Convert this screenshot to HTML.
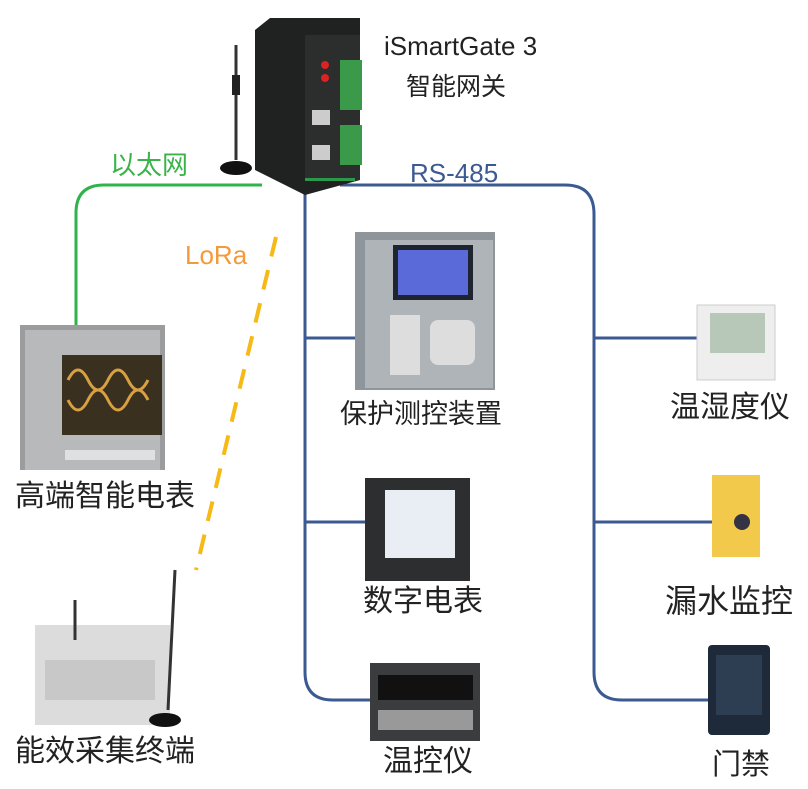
<!DOCTYPE html>
<html><head><meta charset="utf-8"><style>
body{margin:0;width:808px;height:789px;background:#fff;position:relative;overflow:hidden;font-family:"Liberation Sans","Noto Sans CJK SC",sans-serif}
.t{position:absolute;font-size:30px;color:#222;white-space:nowrap;line-height:1}
</style></head><body>
<svg width="808" height="789" style="position:absolute;left:0;top:0">
<g fill="none" stroke-width="3">
<path d="M262 185 H104 Q76 185 76 213 V326" stroke="#2fb34a"/>
<path d="M340 185 H565 Q594 185 594 214 V672 Q594 700 622 700 H708" stroke="#3c5a92"/>
<path d="M305 190 V672 Q305 700 333 700 H372" stroke="#3c5a92"/>
<path d="M305 338 H356 M305 522 H366 M594 338 H698 M594 522 H712" stroke="#3c5a92"/>
<path d="M276 237 L196 570" stroke="#f6b915" stroke-dasharray="20 14" stroke-width="4"/>
</g>
<line x1="236" y1="45" x2="236" y2="160" stroke="#333" stroke-width="3"/>
<rect x="232" y="75" width="8" height="20" fill="#222"/>
<ellipse cx="236" cy="168" rx="16" ry="7" fill="#111"/>
<polygon points="255,30 270,18 360,18 360,180 305,195 255,170" fill="#1f2220"/>
<rect x="305" y="35" width="55" height="145" fill="#2b2e2c"/>
<rect x="340" y="60" width="22" height="50" fill="#3a9a4a"/>
<rect x="340" y="125" width="22" height="40" fill="#3a9a4a"/>
<rect x="312" y="110" width="18" height="15" fill="#ccc"/><rect x="312" y="145" width="18" height="15" fill="#ccc"/>
<circle cx="325" cy="65" r="4" fill="#d22"/><circle cx="325" cy="78" r="4" fill="#d22"/>
<rect x="305" y="178" width="50" height="3" fill="#2a9a4a"/>
<rect x="20" y="325" width="145" height="145" fill="#9a9c9e"/>
<rect x="25" y="330" width="135" height="140" fill="#b7b9bb"/>
<rect x="62" y="355" width="100" height="80" fill="#3a3020"/>
<path d="M68 380 q10 -20 20 0 t20 0 t20 0 t20 0 M68 400 q10 20 20 0 t20 0 t20 0 t20 0" stroke="#d8a040" stroke-width="3" fill="none"/>
<rect x="65" y="450" width="90" height="10" fill="#e0e0e0"/>
<rect x="355" y="232" width="140" height="158" fill="#8e969c"/>
<rect x="365" y="240" width="128" height="148" fill="#aeb4b8"/>
<rect x="393" y="245" width="80" height="55" fill="#1f2530"/>
<rect x="398" y="250" width="70" height="45" fill="#5a6ad8"/>
<rect x="430" y="320" width="45" height="45" fill="#ddd" rx="8"/>
<rect x="390" y="315" width="30" height="60" fill="#ddd"/>
<rect x="365" y="478" width="105" height="103" fill="#2c2e30"/>
<rect x="385" y="490" width="70" height="68" fill="#e8eef4"/>
<rect x="370" y="663" width="110" height="78" fill="#3a3c3e"/>
<rect x="378" y="675" width="95" height="25" fill="#111"/>
<rect x="378" y="710" width="95" height="20" fill="#999"/>
<rect x="697" y="305" width="78" height="75" fill="#eee" stroke="#ccc"/>
<rect x="710" y="313" width="55" height="40" fill="#b8c8b8"/>
<rect x="712" y="475" width="48" height="82" fill="#f2c94a"/>
<circle cx="742" cy="522" r="8" fill="#334"/>
<rect x="708" y="645" width="62" height="90" fill="#1e2a3a" rx="4"/>
<rect x="716" y="655" width="46" height="60" fill="#2e3e52"/>
<rect x="35" y="625" width="135" height="100" fill="#dcdcdc"/>
<rect x="45" y="660" width="110" height="40" fill="#c8c8c8"/>
<line x1="175" y1="570" x2="168" y2="710" stroke="#333" stroke-width="3"/>
<ellipse cx="165" cy="720" rx="16" ry="7" fill="#111"/>
<line x1="75" y1="600" x2="75" y2="640" stroke="#333" stroke-width="3"/>
</svg>
<div class="t" style="left:384px;top:33px;font-size:26px">iSmartGate 3</div>
<div class="t" style="left:406px;top:75px;font-size:25px">智能网关</div>
<div class="t" style="left:110px;top:152px;font-size:26px;color:#3ab44a">以太网</div>
<div class="t" style="left:410px;top:160px;font-size:26px;color:#3c5a92">RS-485</div>
<div class="t" style="left:185px;top:242px;font-size:26px;color:#f39a3a">LoRa</div>
<div class="t" style="left:340px;top:401px;font-size:27px">保护测控装置</div>
<div class="t" style="left:15px;top:482px">高端智能电表</div>
<div class="t" style="left:670px;top:393px">温湿度仪</div>
<div class="t" style="left:363px;top:587px">数字电表</div>
<div class="t" style="left:665px;top:585px;font-size:32px">漏水监控</div>
<div class="t" style="left:15px;top:737px">能效采集终端</div>
<div class="t" style="left:383px;top:747px">温控仪</div>
<div class="t" style="left:712px;top:751px;font-size:29px">门禁</div>
</body></html>
